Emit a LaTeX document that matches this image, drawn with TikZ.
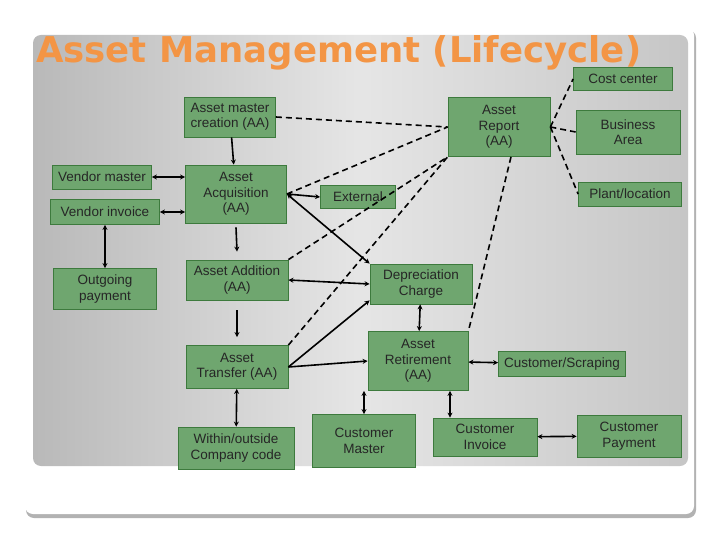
\documentclass[tikz,border=0pt]{standalone}
\usepackage{fontspec}
\setmainfont{Liberation Sans}
\newfontfamily\titlefont{DejaVu Sans}
\usetikzlibrary{arrows.meta}
\definecolor{boxfill}{HTML}{6FA66F}
\definecolor{boxline}{HTML}{3D7A3D}
\definecolor{titleor}{HTML}{F39545}
\tikzset{
 box/.style={draw=boxline, fill=boxfill, line width=0.8pt, align=center, inner sep=1pt,
   font=\fontsize{13.5}{15.5}\selectfont, text=black!85},
 con/.style={line width=1.6pt, -{Stealth[length=5pt,width=5pt]}},
 bicon/.style={line width=1.6pt, {Stealth[length=5pt,width=5pt]}-{Stealth[length=5pt,width=5pt]}},
 dsh/.style={line width=1.6pt, dash pattern=on 6pt off 4pt}
}
\begin{document}
\begin{tikzpicture}[x=1pt,y=-1pt]
\useasboundingbox (0,0) rectangle (720,540);
\fill[white] (0,0) rectangle (720,540);
% card
\fill[gray!60, rounded corners=8pt] (26,30) rectangle (696,518);
\fill[white, rounded corners=8pt] (25,27) rectangle (694,514);
\shade[left color=gray!55, right color=gray!45, middle color=gray!20, rounded corners=8pt] (33,35) rectangle (688,466);
\node[anchor=west, font=\titlefont\fontsize{35.5}{37}\selectfont\bfseries, text=titleor, inner sep=0pt] (title) at (36,53) {Asset Management (Lifecycle)};
% boxes
\node[box, minimum width=91, minimum height=40] (amc) at (230,117) {Asset master\\creation (AA)};
\node[box, minimum width=102, minimum height=59] (rep) at (499,127) {Asset\\Report\\(AA)};
\node[box, minimum width=99, minimum height=23] (cc) at (623,79) {Cost center};
\node[box, minimum width=104, minimum height=44] (ba) at (628,132) {Business\\Area};
\node[box, minimum width=103, minimum height=24] (pl) at (630,194) {Plant/location};
\node[box, minimum width=99, minimum height=24] (vm) at (102,177) {Vendor master};
\node[box, minimum width=109, minimum height=25] (vi) at (105,212) {Vendor invoice};
\node[box, minimum width=101, minimum height=58] (acq) at (236,194) {Asset\\Acquisition\\(AA)};
\node[box, minimum width=75, minimum height=23] (ext) at (358,197) {External};
\node[box, minimum width=103, minimum height=41] (op) at (105,289) {Outgoing\\payment};
\node[box, minimum width=102, minimum height=40] (add) at (237,280) {Asset Addition\\(AA)};
\node[box, minimum width=102, minimum height=40] (dep) at (421,284) {Depreciation\\Charge};
\node[box, minimum width=102, minimum height=43] (tr) at (237,367) {Asset\\Transfer (AA)};
\node[box, minimum width=100, minimum height=59] (ret) at (418,361) {Asset\\Retirement\\(AA)};
\node[box, minimum width=127, minimum height=25] (cs) at (562,364) {Customer/Scraping};
\node[box, minimum width=116, minimum height=42] (wo) at (236,448) {Within/outside\\Company code};
\node[box, minimum width=103, minimum height=53] (cm) at (364,441) {Customer\\Master};
\node[box, minimum width=104, minimum height=38] (ci) at (485,437) {Customer\\Invoice};
\node[box, minimum width=104, minimum height=42] (cp) at (629,436) {Customer\\Payment};
\coordinate (rs) at ([xshift=32]ret.south);
\coordinate (a1) at ([yshift=-4]acq.south);
\coordinate (a2) at ([yshift=8]add.north);
\coordinate (a3) at ([yshift=-10]add.south);
\coordinate (a4) at ([yshift=8]tr.north);
% solid connectors
\draw[con] (amc) -- (acq);
\draw[bicon] (vm) -- (acq.west |- vm);
\draw[bicon] (vi) -- (acq.west |- vi);
\draw[bicon] (vi) -- (op);
\draw[con] (a1) -- (a2);
\draw[con] (a3) -- (a4);
\draw[bicon] (acq.east) -- (ext.west);
\draw[bicon] (acq.east) -- (dep.north west);
\draw[bicon] (add.east) -- (dep.west);
\draw[con] (tr.east) -- ([yshift=4]dep.south west);
\draw[con] (tr.east) -- (ret.west);
\draw[bicon] (dep) -- (ret);
\draw[bicon] (ret) -- (cs);
\draw[bicon] (tr) -- (wo);
\draw[bicon] (ret.south -| cm) -- (cm);
\draw[bicon] (rs) -- (ci.north -| rs);
\draw[bicon] (ci) -- (cp);
% dashed
\draw[dsh] (amc.east) -- (rep.west);
\draw[dsh] (acq.east) -- (rep.west);
\draw[dsh] (add.north east) -- (rep.south west);
\draw[dsh] (tr.north east) -- (rep.south west);
\draw[dsh] ([xshift=12]rep.south) -- (ret.north east);
\draw[dsh] (rep.east) -- (cc.west);
\draw[dsh] (rep.east) -- (ba.west);
\draw[dsh] (rep.east) -- (pl.west);
\end{tikzpicture}
\end{document}
